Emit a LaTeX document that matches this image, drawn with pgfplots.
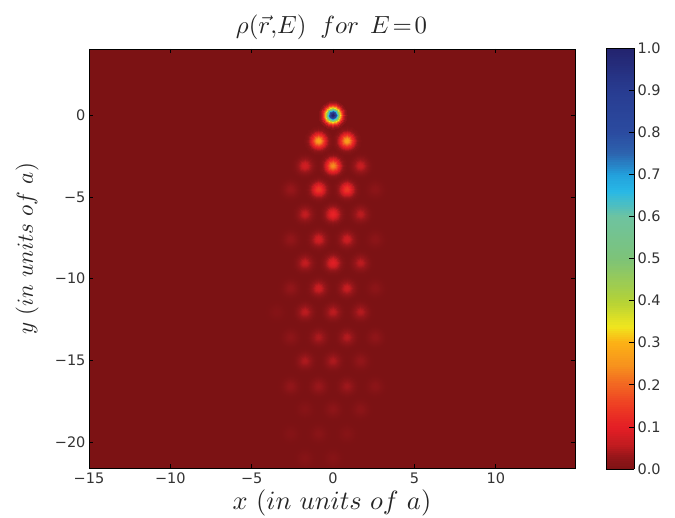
\documentclass[border=0pt]{standalone}
\usepackage{fontspec}
\setmainfont{DejaVu Sans}
\usepackage{pgfplots}
\usepackage{pgfplotstable}
\pgfplotsset{compat=1.18}
\pgfplotstableread{
x y p
0 0 1.0
-0.88 -1.57 0.27
0.86 -1.57 0.27
-1.72 -3.1 0.075
0 -3.1 0.24
1.70 -3.1 0.065
-2.6 -4.55 0.03
-0.88 -4.55 0.14
0.86 -4.55 0.14
2.6 -4.55 0.018
-1.72 -6.06 0.06
0 -6.06 0.11
1.70 -6.06 0.055
-2.6 -7.6 0.025
-0.88 -7.6 0.075
0.86 -7.6 0.07
2.6 -7.6 0.018
-1.72 -9.05 0.06
0 -9.05 0.095
1.70 -9.05 0.055
-2.6 -10.6 0.025
-0.88 -10.6 0.07
0.86 -10.6 0.065
2.6 -10.6 0.018
-3.46 -12.05 0.01
-1.72 -12.05 0.055
0 -12.05 0.055
1.70 -12.05 0.05
-2.6 -13.6 0.02
-0.88 -13.6 0.045
0.86 -13.6 0.05
2.6 -13.6 0.022
-1.72 -15.05 0.045
0 -15.05 0.045
1.70 -15.05 0.025
-2.6 -16.6 0.025
-0.88 -16.6 0.032
0.86 -16.6 0.036
2.6 -16.6 0.018
-1.72 -18.0 0.012
0 -18.0 0.02
1.70 -18.0 0.018
-2.6 -19.5 0.01
-0.88 -19.5 0.015
0.86 -19.5 0.012
-1.72 -21.0 0.012
0 -21.0 0.012
}\blobs
\definecolor{bgred}{RGB}{124,18,20}
\pgfplotsset{
  colormap={rhojet}{
    rgb255(0pt)=(124,18,20);
    rgb255(3pt)=(150,22,26);
    rgb255(6pt)=(195,28,32);
    rgb255(10pt)=(228,30,37);
    rgb255(15pt)=(238,60,35);
    rgb255(20pt)=(242,101,34);
    rgb255(25pt)=(247,148,29);
    rgb255(30pt)=(252,176,22);
    rgb255(34pt)=(240,230,30);
    rgb255(40pt)=(180,210,55);
    rgb255(50pt)=(125,195,120);
    rgb255(60pt)=(110,195,160);
    rgb255(66pt)=(40,185,230);
    rgb255(70pt)=(35,160,220);
    rgb255(75pt)=(45,100,175);
    rgb255(80pt)=(43,75,160);
    rgb255(90pt)=(40,60,145);
    rgb255(100pt)=(35,35,110)
  }
}
\newcommand\ring[2]{%
  \addplot[scatter, only marks, mark=*, mark size=#1pt, forget plot,
    scatter src=explicit,
    mark options={line width=0pt},
    scatter/use mapped color={draw=mapped color, fill=mapped color}]
    table[x=x, y=y, meta expr={\thisrow{p}*#2}] {\blobs};
}
\begin{document}
\begin{tikzpicture}
\path[use as bounding box] (0,0) rectangle (675pt,518pt);
\begin{axis}[
  at={(89pt,50pt)}, anchor=south west,
  scale only axis, width=486pt, height=419pt,
  xmin=-15, xmax=14.87, ymin=-21.6, ymax=4.05,
  axis background/.style={fill=bgred},
  point meta min=0, point meta max=1,
  colormap name=rhojet,
  axis line style={black, line width=0.9pt},
  tick align=inside, tick style={black, line width=0.6pt},
  major tick length=4pt,
  xtick={-15,-10,-5,0,5,10},
  xticklabels={−15,−10,−5,0,5,10},
  ytick={-20,-15,-10,-5,0},
  yticklabels={−20,−15,−10,−5,0},
  tick label style={font=\fontsize{14.5}{16}\selectfont, text=black!80},
  xticklabel style={yshift=-1.5pt},
  clip marker paths=true,
  colorbar sampled,
  colorbar style={
    at={(1.0638,-0.0024)}, anchor=south west,
    scale only axis, width=28pt, height=421pt,
    samples=201,
    axis line style={black, line width=0.8pt},
    ytick={0,0.1,...,1.0},
    yticklabels={0.0,0.1,0.2,0.3,0.4,0.5,0.6,0.7,0.8,0.9,1.0},
    ytick pos=right, yticklabel pos=right,
    tick align=inside, major tick length=5pt,
    tick style={black, line width=0.7pt},
    tick label style={font=\fontsize{14.5}{16}\selectfont, text=black!80},
    yticklabel style={xshift=0pt},
  },
  clip=true,
]
\ring{14}{0.014}
\ring{13}{0.025}
\ring{12}{0.044}
\ring{11}{0.072}
\ring{10}{0.114}
\ring{9.5}{0.14}
\ring{9}{0.172}
\ring{8.5}{0.208}
\ring{8}{0.249}
\ring{7.5}{0.295}
\ring{7}{0.345}
\ring{6.5}{0.40}
\ring{6}{0.458}
\ring{5.5}{0.518}
\ring{5}{0.58}
\ring{4.5}{0.644}
\ring{4}{0.706}
\ring{3.5}{0.766}
\ring{3}{0.822}
\ring{2.5}{0.873}
\ring{2}{0.917}
\ring{1.5}{0.952}
\ring{1}{0.978}
\ring{0.5}{1.0}
\end{axis}
\node[scale=2.48, text=black!85] at (331.5pt,491pt) {$\rho(\vec{r},\!E)\;\;for\;\,E\mkern2mu{=}\mkern2mu0$};
\node[scale=2.64, text=black!85] at (332pt,15pt) {$x\ (in\ units\ of\ a)$};
\node[scale=2.3, text=black!85, rotate=90] at (27pt,269pt) {$y\ (in\ units\ of\ a)$};
\end{tikzpicture}
\end{document}
